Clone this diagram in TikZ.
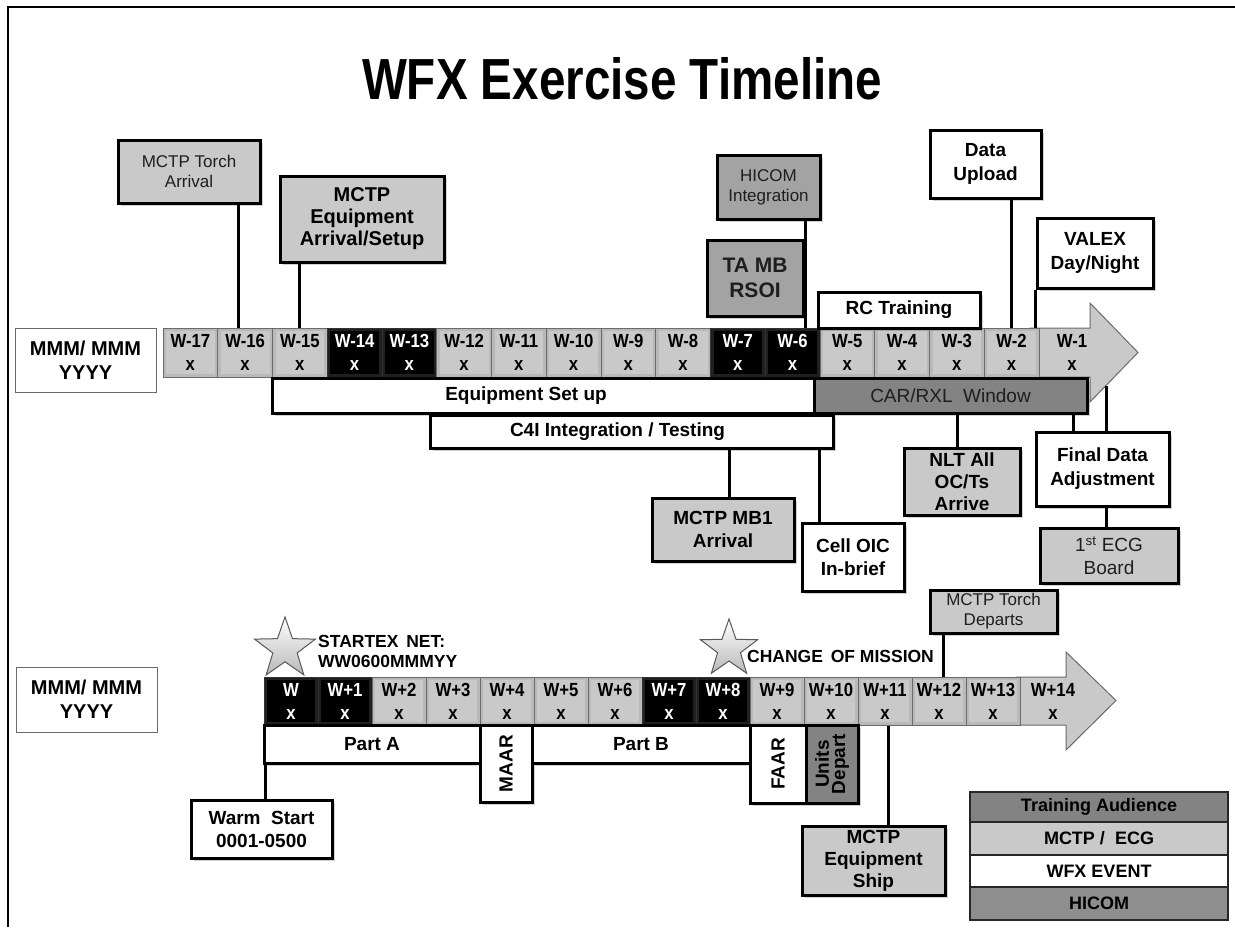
\documentclass[tikz,border=0pt]{standalone}
\usepackage{fontspec}
\setmainfont{Liberation Sans}
\newfontfamily\narrowf[FakeStretch=0.88]{Liberation Sans}
\usetikzlibrary{shapes.geometric,shadows,calc}
\definecolor{lgray}{HTML}{C9C9C9}
\definecolor{mgray}{HTML}{A3A3A3}
\definecolor{dgray}{HTML}{838383}
\definecolor{hgray}{HTML}{8E8E8E}
\definecolor{tgray}{HTML}{1E1E1E}
\definecolor{edge}{HTML}{6A6A6A}
\newcommand\bx[7]{%
 \pgfmathsetmacro\bxcx{(#2+#4)/2}%
 \pgfmathsetmacro\bxcy{(#3+#5)/2}%
 \pgfmathsetmacro\bxw{#4-#2}%
 \pgfmathsetmacro\bxh{#5-#3}%
 \node[#6,minimum width=\bxw pt,minimum height=\bxh pt] (#1) at (\bxcx,\bxcy) {#7};}
\newcommand\fs[2]{\fontsize{#1}{#2}\selectfont}
\tikzset{
 box/.style={draw=black,line width=3pt,align=center,inner sep=1pt,
   font=\bfseries\fs{19}{23},
   drop shadow={shadow xshift=3pt,shadow yshift=-3pt,opacity=.35}},
 lbox/.style={box,fill=lgray},
 wbox/.style={box,fill=white},
 mbox/.style={box,fill=mgray},
 dbox/.style={box,fill=dgray},
 thin/.style={font=\fs{17}{20},text=tgray},
 conn/.style={line width=3pt,black},
 bevel/.style={path picture={\fill[#1] ([shift={(3pt,-3pt)}]path picture bounding box.north west) rectangle ([shift={(-3pt,3pt)}]path picture bounding box.south east);}},
 cell/.style={draw=edge,line width=1pt,fill=gray!55,bevel=lgray,inner sep=0,align=center,
   font=\narrowf\bfseries\fs{19}{23},minimum width=54.75pt,minimum height=49pt},
 dcell/.style={cell,fill=gray!25!black,bevel=black,text=white,draw=gray!40!black},
 cellb/.style={cell,minimum width=54pt,minimum height=48pt},
 dcellb/.style={dcell,minimum width=54pt,minimum height=48pt},
 mmm/.style={draw=edge,line width=1pt,fill=white,align=center,font=\bfseries\fs{20}{24}},
 leg/.style={draw=black!85,line width=1.5pt,align=center,font=\bfseries\fs{18}{20}},
 starn/.style={star,star points=5,star point ratio=2.5,inner sep=0,draw=gray!70!black,
   line width=1pt,top color=white,bottom color=gray!55}
}
\begin{document}
\begin{tikzpicture}[x=1pt,y=-1pt]
\useasboundingbox (0,0) rectangle (1235,927);
\fill[white] (0,0) rectangle (1235,927);
\draw[line width=2pt] (8,927) -- (8,7) -- (1235,7);

\node (title) at (622,79) {\scalebox{0.82}[1]{\bfseries\fs{58}{60}WFX Exercise Timeline}};

% ---------- first timeline ----------
\bx{mmma}{15}{328}{156}{392}{mmm}{MMM/ MMM\\YYYY}
\draw[fill=lgray,draw=edge,line width=1pt] (1030,328) -- (1090,328) -- (1090,303) -- (1138,352.5) -- (1090,402) -- (1090,377) -- (1030,377) -- cycle;
\foreach \i/\lab/\st in {0/17/cell,1/16/cell,2/15/cell,3/14/dcell,4/13/dcell,5/12/cell,6/11/cell,7/10/cell,8/9/cell,9/8/cell,10/7/dcell,11/6/dcell,12/5/cell,13/4/cell,14/3/cell,15/2/cell}{
  \node[\st] (t\lab) at ({163+54.75*\i+27.375},352.5) {W-\lab\\x};
}
\node[font=\narrowf\bfseries\fs{19}{23},align=center] (t1) at (1072,352.5) {W-1\\x};

\bx{eq}{272}{378}{814}{413}{wbox}{\hspace*{-34pt}Equipment Set up}
\bx{car}{814}{378}{1087}{413}{dbox,font=\fs{19}{22},text=tgray}{CAR/RXL\ \ Window}
\bx{cfi}{430}{415}{833}{448}{wbox}{\hspace*{-28pt}C4I Integration / Testing}

% top callouts
\bx{ta}{118}{140}{260}{203}{lbox,thin}{MCTP Torch\\Arrival}
\bx{ea}{280}{176}{444}{262}{lbox,font=\bfseries\fs{20}{22}}{MCTP\\Equipment\\Arrival/Setup}
\bx{hi}{717}{155}{820}{219}{mbox,thin}{HICOM\\Integration}
\bx{rs}{707}{240}{803}{316}{mbox,font=\bfseries\fs{21}{25},text=tgray}{TA MB\\RSOI}
\bx{rc}{818}{292}{980}{328}{wbox}{RC Training}
\bx{du}{930}{130}{1041}{198}{wbox,font=\bfseries\fs{19}{24}}{Data\\Upload}
\bx{va}{1037}{218}{1153}{288}{wbox,font=\bfseries\fs{19}{24}}{VALEX\\Day/Night}

\draw[conn] (ta.south -| 238,0) -- (238,0 |- t16.north);
\draw[conn] (ea.south -| 299,0) -- (299,0 |- t15.north);
\draw[conn] (hi.south -| 805,0) -- (805,0 |- t6.north);
\draw[conn] (du.south -| 1011,0) -- (1011,0 |- t2.north);
\draw[conn] (va.south west) -- (va.south west |- t2.north);

% lower callouts
\bx{mb}{652}{498}{794}{561}{lbox}{MCTP MB1\\Arrival}
\bx{oic}{802}{523}{904}{591}{wbox}{Cell OIC\\In-brief}
\bx{nlt}{904}{448}{1020}{515}{lbox,font=\bfseries\fs{19}{22}}{NLT All\\OC/Ts\\Arrive}
\bx{fda}{1036}{432}{1169}{506}{wbox,font=\bfseries\fs{19}{24}}{Final Data\\Adjustment}
\bx{ecg}{1040}{528}{1178}{583}{lbox,font=\fs{19}{23},text=tgray}{1\textsuperscript{st} ECG\\Board}
\bx{td}{930}{590}{1057}{633}{lbox,thin}{MCTP Torch\\Departs}

\coordinate (ah) at (1106,386);
\draw[conn] (cfi.south -| 729,0) -- (mb.north -| 729,0);
\draw[conn] (cfi.south -| 819,0) -- (oic.north -| 819,0);
\draw[conn] (car.south -| 957,0) -- (nlt.north -| 957,0);
\draw[conn] (car.south -| 1073,0) -- (fda.north -| 1073,0);
\draw[conn] (ah) -- (fda.north -| ah);
\draw[conn] (fda.south -| ah) -- (ecg.north -| ah);

% ---------- second timeline ----------
\bx{mmmb}{16}{667}{157}{732}{mmm}{MMM/ MMM\\YYYY}
\draw[fill=lgray,draw=edge,line width=1pt] (1016,677) -- (1066,677) -- (1066,652) -- (1116,700.5) -- (1066,750) -- (1066,725) -- (1016,725) -- cycle;
\foreach \i/\lab/\st in {0/W/dcellb,1/W+1/dcellb,2/W+2/cellb,3/W+3/cellb,4/W+4/cellb,5/W+5/cellb,6/W+6/cellb,7/W+7/dcellb,8/W+8/dcellb,9/W+9/cellb,10/W+10/cellb,11/W+11/cellb,12/W+12/cellb,13/W+13/cellb}{
  \node[\st] (b\i) at ({264+54*\i+27},701) {\lab\\x};
}
\node[font=\narrowf\bfseries\fs{19}{23},align=center] (b14) at (1053,701) {W+14\\x};

\node[starn,minimum size=64pt] (s1) at (285,649) {};
\node[starn,minimum size=60pt] (s2) at (729,649) {};
\node[anchor=west,align=left,inner sep=0,font=\bfseries\fs{17.5}{20}] (stx) at (318,651) {STARTEX\ \,NET:\\WW0600MMMYY};
\node[anchor=west,inner sep=0,font=\bfseries\fs{17.5}{20}] (com) at (747,656) {CHANGE\ \,OF MISSION};

\bx{pa}{264}{725}{480}{763}{wbox}{Part A}
\bx{maar}{480}{725}{532}{802}{wbox}{\rotatebox{90}{MAAR}}
\bx{pb}{532}{725}{750}{763}{wbox}{Part B}
\bx{faar}{750}{725}{806}{803}{wbox}{\rotatebox{90}{FAAR}}
\bx{ud}{806}{725}{858}{803}{dbox,font=\bfseries\fs{19}{19}}{\rotatebox{90}{\shortstack{Units\\Depart}}}
\bx{ws}{191}{800}{332}{858}{wbox}{Warm\ \ Start\\0001-0500}
\bx{es}{802}{826}{945}{895}{lbox,font=\bfseries\fs{19}{22}}{MCTP\\Equipment\\Ship}

\draw[conn] (pa.south -| 265,0) -- (ws.north -| 265,0);
\draw[conn] (b11.south -| 888,0) -- (es.north -| 888,0);
\draw[conn] (td.south -| 943,0) -- (943,0 |- b12.north);

% legend
\bx{lg1}{970}{792}{1228}{822}{leg,fill=dgray}{Training Audience}
\bx{lg2}{970}{822}{1228}{855}{leg,fill=lgray}{MCTP /\ \ ECG}
\bx{lg3}{970}{855}{1228}{887}{leg,fill=white}{WFX EVENT}
\bx{lg4}{970}{887}{1228}{920}{leg,fill=hgray}{HICOM}
\end{tikzpicture}
\end{document}
